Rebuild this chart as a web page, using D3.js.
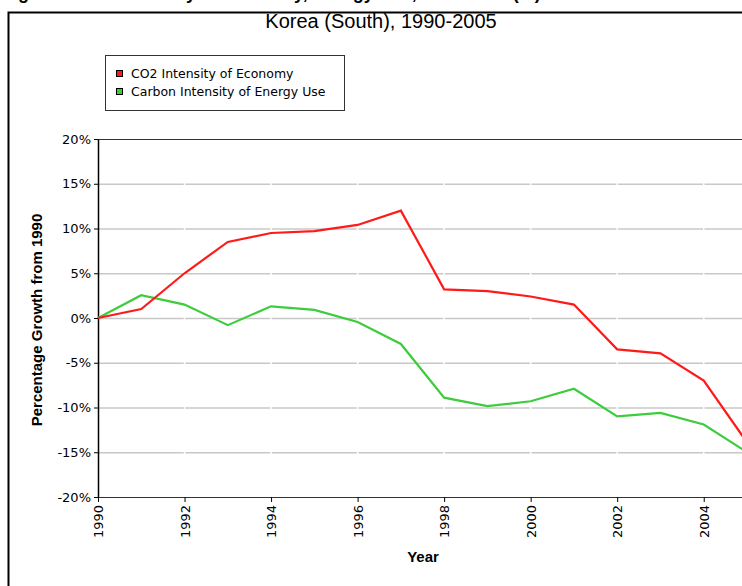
<!DOCTYPE html>
<html>
<head>
<meta charset="utf-8">
<script src="https://cdn.jsdelivr.net/npm/d3@7"></script>
<style>
  body { margin: 0; background: #fff; }
  svg { display: block; }
</style>
</head>
<body>
<div id="chart"></div>
<script>
(function () {
  'use strict';

  const years = [1990, 1991, 1992, 1993, 1994, 1995, 1996, 1997, 1998, 1999, 2000, 2001, 2002, 2003, 2004, 2005];
  const co2Economy = [0, 1.0, 5.0, 8.5, 9.5, 9.7, 10.4, 12.0, 3.2, 3.0, 2.4, 1.5, -3.5, -3.95, -7.0, -13.9];
  const carbonEnergy = [0, 2.55, 1.5, -0.8, 1.3, 0.9, -0.45, -2.9, -8.9, -9.85, -9.3, -7.9, -11.0, -10.6, -11.9, -15.0];
  const seriesNames = ['CO2 Intensity of Economy', 'Carbon Intensity of Energy Use'];
  const seriesColors = ['#ff1a1a', '#3ccc3c'];
  const yTicks = [20, 15, 10, 5, 0, -5, -10, -15, -20];
  const xTicks = [1990, 1992, 1994, 1996, 1998, 2000, 2002, 2004];

  const width = 742;
  const height = 586;

  const svg = d3.select('#chart')
    .append('svg')
    .attr('width', width)
    .attr('height', height);

  // page heading above the frame, cut off by the top edge as in the source
  svg.append('text')
    .attr('x', 2)
    .attr('y', -1)
    .style('font-family', 'Liberation Sans, Arial, sans-serif')
    .style('font-size', '18px')
    .style('font-weight', 'bold')
    .text('Figure 3. CO\u2082 Intensity of Economy, Energy Use, 1990-2005 (%)');

  // outer frame
  svg.append('rect')
    .attr('x', 8.5)
    .attr('y', 12.5)
    .attr('width', 900)
    .attr('height', 700)
    .attr('fill', 'none')
    .attr('stroke', '#000')
    .attr('stroke-width', 2);

  svg.append('text')
    .attr('x', 381)
    .attr('y', 28)
    .attr('text-anchor', 'middle')
    .style('font-family', 'Liberation Sans, Arial, sans-serif')
    .style('font-size', '20px')
    .text('Korea (South), 1990-2005');

  const x = d3.scaleLinear().domain([1990, 2005]).range([98, 747]);
  const y = d3.scaleLinear().domain([-20, 20]).range([497, 139]);

  // gridlines
  svg.append('g')
    .selectAll('line')
    .data(yTicks.filter(d => d !== 20 && d !== -20))
    .join('line')
    .attr('x1', x(1990))
    .attr('x2', width)
    .attr('y1', d => y(d) + 0.5)
    .attr('y2', d => y(d) + 0.5)
    .attr('stroke', '#c8c8c8')
    .attr('stroke-width', 1.5);

  svg.append('g')
    .selectAll('line')
    .data(xTicks.slice(1))
    .join('line')
    .attr('x1', d => x(d))
    .attr('x2', d => x(d))
    .attr('y1', y(20) + 2)
    .attr('y2', y(-20) - 2)
    .attr('stroke', '#fff')
    .attr('stroke-width', 1.5);

  // top border of plot
  svg.append('line')
    .attr('x1', x(1990))
    .attr('x2', width)
    .attr('y1', y(20) + 0.5)
    .attr('y2', y(20) + 0.5)
    .attr('stroke', '#333')
    .attr('stroke-width', 1);

  // axes
  const yAxis = d3.axisLeft(y)
    .tickValues(yTicks)
    .tickFormat(d => d + '%')
    .tickSize(4)
    .tickSizeOuter(0)
    .tickPadding(3);

  const yG = svg.append('g')
    .attr('transform', 'translate(' + x(1990) + ',0)')
    .call(yAxis);
  yG.selectAll('text')
    .attr('fill', '#000')
    .style('font-family', 'DejaVu Sans, sans-serif')
    .style('font-size', '13px');
  yG.select('.domain').attr('stroke', '#000').attr('stroke-width', 1.5);

  const xAxis = d3.axisBottom(x)
    .tickValues(xTicks)
    .tickFormat(d3.format('d'))
    .tickSize(5)
    .tickSizeOuter(0);

  const xG = svg.append('g')
    .attr('transform', 'translate(0,' + y(-20) + ')')
    .call(xAxis);
  xG.select('.domain').attr('stroke', '#333').attr('stroke-width', 1.2);
  xG.selectAll('text')
    .attr('fill', '#000')
    .attr('transform', 'rotate(-90)')
    .attr('text-anchor', 'end')
    .attr('x', -8)
    .attr('y', 0)
    .attr('dy', '0.35em')
    .style('font-family', 'DejaVu Sans, sans-serif')
    .style('font-size', '13px');

  // axis titles
  svg.append('text')
    .attr('x', 423)
    .attr('y', 562)
    .attr('text-anchor', 'middle')
    .style('font-family', 'Liberation Sans, Arial, sans-serif')
    .style('font-size', '15px')
    .style('font-weight', 'bold')
    .text('Year');

  svg.append('text')
    .attr('transform', 'translate(42,' + (y(0) + 2) + ') rotate(-90)')
    .attr('text-anchor', 'middle')
    .style('font-family', 'Liberation Sans, Arial, sans-serif')
    .style('font-size', '15px')
    .style('font-weight', 'bold')
    .text('Percentage Growth from 1990');

  // lines
  const line = d3.line()
    .x((d, i) => x(years[i]))
    .y(d => y(d));

  const plot = svg.append('g');
  [co2Economy, carbonEnergy].forEach((values, i) => {
    plot.append('path')
      .datum(values)
      .attr('d', line)
      .attr('fill', 'none')
      .attr('stroke', seriesColors[i])
      .attr('stroke-width', 2.2)
      .attr('stroke-linejoin', 'miter');
  });
  // red sits on top as in the reference
  plot.select('path').raise();

  // legend
  const legend = svg.append('g');
  legend.append('rect')
    .attr('x', 105.5)
    .attr('y', 55.5)
    .attr('width', 239)
    .attr('height', 55)
    .attr('fill', '#fff')
    .attr('stroke', '#333')
    .attr('stroke-width', 1);

  seriesNames.forEach((name, i) => {
    legend.append('rect')
      .attr('x', 116.5)
      .attr('y', 70.5 + i * 18)
      .attr('width', 6)
      .attr('height', 6)
      .attr('fill', seriesColors[i])
      .attr('stroke', '#000')
      .attr('stroke-width', 1);
    legend.append('text')
      .attr('x', 131)
      .attr('y', 78 + i * 18)
      .style('font-family', 'DejaVu Sans, sans-serif')
      .style('font-size', '12.5px')
      .text(name);
  });
}());
</script>
</body>
</html>
